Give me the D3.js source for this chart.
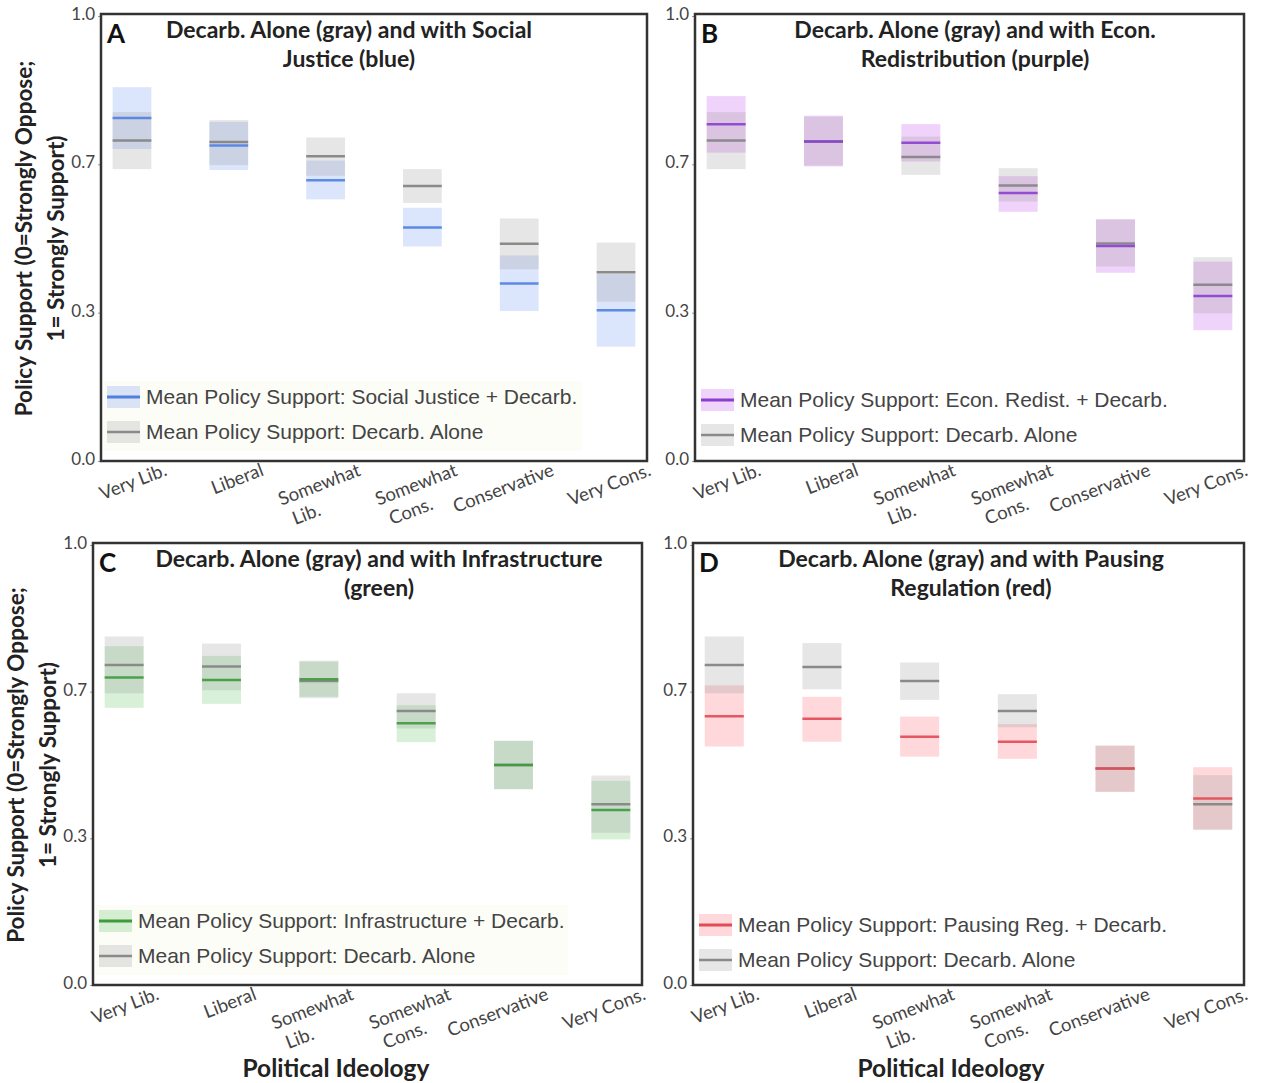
<!DOCTYPE html>
<html>
<head>
<meta charset="utf-8">
<script src="https://cdn.jsdelivr.net/npm/d3@7"></script>
<style>
  body { margin: 0; background: #fff; }
  svg { display: block; }
</style>
</head>
<body>
<div id="chart"></div>
<script>
const WIDTH = 1261;
const HEIGHT = 1083;

// categories along the x axis
const categories = ['Very Lib.', 'Liberal', 'Somewhat Lib.', 'Somewhat Cons.', 'Conservative', 'Very Cons.'];
const categoryLines = [['Very Lib.'], ['Liberal'], ['Somewhat', 'Lib.'], ['Somewhat', 'Cons.'], ['Conservative'], ['Very Cons.']];
// ticks sit at thirds, printed with one decimal (0.0, 0.3, 0.7, 1.0)
const yTicks = [0, 1 / 3, 2 / 3, 1];

// Panel A: social justice
const sjMean = [0.771, 0.709, 0.631, 0.525, 0.399, 0.339];
const sjLow = [0.701, 0.654, 0.588, 0.482, 0.337, 0.257];
const sjHigh = [0.840, 0.762, 0.675, 0.569, 0.462, 0.420];
const aloneMeanA = [0.720, 0.717, 0.685, 0.618, 0.488, 0.424];
const aloneLowA = [0.656, 0.665, 0.641, 0.580, 0.431, 0.358];
const aloneHighA = [0.784, 0.766, 0.727, 0.656, 0.545, 0.491];

// Panel B: economic redistribution
const erMean = [0.757, 0.718, 0.715, 0.602, 0.483, 0.371];
const erLow = [0.693, 0.662, 0.673, 0.560, 0.423, 0.294];
const erHigh = [0.820, 0.776, 0.757, 0.640, 0.543, 0.448];
const aloneMeanB = [0.720, 0.718, 0.683, 0.619, 0.489, 0.396];
const aloneLowB = [0.656, 0.664, 0.643, 0.583, 0.437, 0.332];
const aloneHighB = [0.784, 0.774, 0.729, 0.658, 0.543, 0.458];

// Panel C: infrastructure
const infMean = [0.699, 0.693, 0.695, 0.595, 0.500, 0.398];
const infLow = [0.630, 0.639, 0.655, 0.552, 0.445, 0.331];
const infHigh = [0.770, 0.748, 0.735, 0.636, 0.555, 0.464];
const aloneMeanC = [0.727, 0.724, 0.691, 0.623, 0.500, 0.411];
const aloneLowC = [0.663, 0.670, 0.652, 0.583, 0.445, 0.346];
const aloneHighC = [0.792, 0.776, 0.737, 0.663, 0.555, 0.476];

// Panel D: pausing regulation
const prMean = [0.611, 0.605, 0.564, 0.553, 0.492, 0.424];
const prLow = [0.542, 0.553, 0.519, 0.514, 0.439, 0.354];
const prHigh = [0.681, 0.655, 0.610, 0.593, 0.544, 0.495];
const aloneMeanD = [0.727, 0.723, 0.691, 0.623, 0.492, 0.411];
const aloneLowD = [0.663, 0.672, 0.648, 0.586, 0.439, 0.352];
const aloneHighD = [0.792, 0.777, 0.733, 0.661, 0.544, 0.477];

const GRAY = { band: 'rgb(150,150,150)', opacity: 0.24, line: '#8a8a8a' };

const PANELS = [
    {
        letter: 'A', left: 101, right: 647, top: 16, bottom: 461, titleX: 349,
        title: ['Decarb. Alone (gray) and with Social', 'Justice (blue)'],
        legend: 'Mean Policy Support: Social Justice + Decarb.',
        band: 'rgb(110,150,240)', bandOpacity: 0.25, line: '#4f80e1',
        mean: sjMean, low: sjLow, high: sjHigh,
        aMean: aloneMeanA, aLow: aloneLowA, aHigh: aloneHighA,
        legendY: 397, yTitle: true, xTitle: false, legendW: 478,
    },
    {
        letter: 'B', left: 695, right: 1244, top: 16, bottom: 461, titleX: 975,
        title: ['Decarb. Alone (gray) and with Econ.', 'Redistribution (purple)'],
        legend: 'Mean Policy Support: Econ. Redist. + Decarb.',
        band: 'rgb(205,110,240)', bandOpacity: 0.3, line: '#8a3ed0',
        mean: erMean, low: erLow, high: erHigh,
        aMean: aloneMeanB, aLow: aloneLowB, aHigh: aloneHighB,
        legendY: 400, yTitle: false, xTitle: false, legendW: 0,
    },
    {
        letter: 'C', left: 93, right: 642, top: 545, bottom: 985, titleX: 379,
        title: ['Decarb. Alone (gray) and with Infrastructure', '(green)'],
        legend: 'Mean Policy Support: Infrastructure + Decarb.',
        band: 'rgb(110,200,110)', bandOpacity: 0.28, line: '#3d9a3d',
        mean: infMean, low: infLow, high: infHigh,
        aMean: aloneMeanC, aLow: aloneLowC, aHigh: aloneHighC,
        legendY: 921, yTitle: true, xTitle: true, xTitleX: 336, legendW: 472,
    },
    {
        letter: 'D', left: 693, right: 1244, top: 545, bottom: 985, titleX: 971,
        title: ['Decarb. Alone (gray) and with Pausing', 'Regulation (red)'],
        legend: 'Mean Policy Support: Pausing Reg. + Decarb.',
        band: 'rgb(250,115,125)', bandOpacity: 0.28, line: '#e24a55',
        mean: prMean, low: prLow, high: prHigh,
        aMean: aloneMeanD, aLow: aloneLowD, aHigh: aloneHighD,
        legendY: 925, yTitle: false, xTitle: true, xTitleX: 951, legendW: 0,
    },
];

const svg = d3.select('#chart')
    .append('svg')
    .attr('width', WIDTH)
    .attr('height', HEIGHT);

PANELS.forEach(p => drawPanel(p));

function drawPanel(p) {
    const x = d3.scalePoint().domain(categories).range([p.left, p.right]).padding(0.32);
    const y = d3.scaleLinear().domain([0, 1]).range([p.bottom, p.top]);
    const boxW = x.step() * 0.4;
    const g = svg.append('g');

    // y axis with ticks at thirds
    const yAxis = g.append('g')
        .attr('transform', `translate(${p.left},0)`)
        .call(d3.axisLeft(y).tickValues(yTicks).tickFormat(d3.format('.1f')).tickSize(3).tickPadding(3));
    yAxis.select('.domain').remove();
    yAxis.selectAll('line').attr('stroke', '#999');
    yAxis.selectAll('text')
        .style('font-family', 'Lato, sans-serif')
        .style('font-size', '17px')
        .attr('fill', '#444')
        .attr('dy', '0.2em');

    const rows = categories.map((c, i) => ({
        cat: c, mean: p.mean[i], low: p.low[i], high: p.high[i],
        aMean: p.aMean[i], aLow: p.aLow[i], aHigh: p.aHigh[i],
    }));

    // colored confidence bands
    g.selectAll('rect.band')
        .data(rows)
        .enter()
        .append('rect')
        .attr('class', 'band')
        .attr('x', d => x(d.cat) - boxW / 2)
        .attr('width', boxW)
        .attr('y', d => y(d.high))
        .attr('height', d => y(d.low) - y(d.high))
        .attr('fill', p.band)
        .attr('fill-opacity', p.bandOpacity);

    // gray (decarb alone) bands
    g.selectAll('rect.alone')
        .data(rows)
        .enter()
        .append('rect')
        .attr('class', 'alone')
        .attr('x', d => x(d.cat) - boxW / 2)
        .attr('width', boxW)
        .attr('y', d => y(d.aHigh))
        .attr('height', d => y(d.aLow) - y(d.aHigh))
        .attr('fill', GRAY.band)
        .attr('fill-opacity', GRAY.opacity);

    // mean lines
    g.selectAll('line.alone-mean')
        .data(rows)
        .enter()
        .append('line')
        .attr('x1', d => x(d.cat) - boxW / 2)
        .attr('x2', d => x(d.cat) + boxW / 2)
        .attr('y1', d => y(d.aMean))
        .attr('y2', d => y(d.aMean))
        .attr('stroke', GRAY.line)
        .attr('stroke-width', 2.5);

    g.selectAll('line.mean')
        .data(rows)
        .enter()
        .append('line')
        .attr('x1', d => x(d.cat) - boxW / 2)
        .attr('x2', d => x(d.cat) + boxW / 2)
        .attr('y1', d => y(d.mean))
        .attr('y2', d => y(d.mean))
        .attr('stroke', p.line)
        .attr('stroke-width', 2.5)
        .attr('stroke-opacity', 0.9);

    // legend
    const lg = g.append('g').attr('transform', `translate(${p.left + 6},${p.legendY})`);
    if (p.legendW) {
        lg.append('rect')
            .attr('x', -3).attr('y', -16)
            .attr('width', p.legendW).attr('height', 70)
            .attr('fill', '#fdfdf7');
    }
    const items = [
        { label: p.legend, band: p.band, op: p.bandOpacity, line: p.line },
        { label: 'Mean Policy Support: Decarb. Alone', band: GRAY.band, op: GRAY.opacity, line: GRAY.line },
    ];
    items.forEach((it, i) => {
        const row = lg.append('g').attr('transform', `translate(0,${i * 35})`);
        row.append('rect')
            .attr('x', 0).attr('y', -11)
            .attr('width', 33).attr('height', 22)
            .attr('fill', it.band).attr('fill-opacity', it.op);
        row.append('line')
            .attr('x1', 0).attr('x2', 33)
            .attr('stroke', it.line).attr('stroke-width', i === 0 ? 3 : 2.5);
        row.append('text')
            .attr('x', 39).attr('y', 7)
            .style('font-family', '"Liberation Sans", Arial, sans-serif')
            .style('font-size', '21px')
            .attr('fill', '#444')
            .text(it.label);
    });

    // frame
    g.append('rect')
        .attr('x', p.left).attr('y', p.top - 2)
        .attr('width', p.right - p.left).attr('height', p.bottom - p.top + 2)
        .attr('fill', 'none')
        .attr('stroke', '#333')
        .attr('stroke-width', 2.5);

    // panel letter and title
    g.append('text')
        .attr('x', p.left + 6).attr('y', p.top + 27)
        .style('font-family', 'Lato, sans-serif')
        .style('font-weight', 700)
        .style('font-size', '26px')
        .attr('fill', '#111')
        .text(p.letter);
    p.title.forEach((t, i) => {
        g.append('text')
            .attr('x', p.titleX).attr('y', p.top + 22 + i * 29)
            .attr('text-anchor', 'middle')
            .style('font-family', 'Lato, sans-serif')
            .style('font-weight', 700)
            .style('font-size', '23px')
            .attr('fill', '#222')
            .text(t);
    });

    // rotated category labels
    categories.forEach((c, i) => {
        const lab = g.append('g')
            .attr('transform', `translate(${x(c) + 36},${p.bottom + 14}) rotate(-21)`);
        const lines = categoryLines[i];
        const first = lab.append('text')
            .attr('text-anchor', 'end')
            .style('font-family', 'Lato, sans-serif')
            .style('font-size', '18.5px')
            .attr('fill', '#444')
            .text(lines[0]);
        if (lines.length > 1) {
            const len = first.node().getComputedTextLength();
            lab.append('text')
                .attr('x', -len + 6).attr('y', 23)
                .style('font-family', 'Lato, sans-serif')
                .style('font-size', '18.5px')
                .attr('fill', '#444')
                .text(lines[1]);
        }
    });

    // axis titles
    if (p.yTitle) {
        const cy = (p.top + p.bottom) / 2;
        ['Policy Support (0=Strongly Oppose;', '1= Strongly Support)'].forEach((t, i) => {
            g.append('text')
                .attr('transform', `translate(${p.left - 69 + i * 32},${cy}) rotate(-90)`)
                .attr('text-anchor', 'middle')
                .style('font-family', 'Lato, sans-serif')
                .style('font-weight', 700)
                .style('font-size', '22.5px')
                .attr('fill', '#222')
                .text(t);
        });
    }
    if (p.xTitle) {
        g.append('text')
            .attr('x', p.xTitleX).attr('y', p.bottom + 92)
            .attr('text-anchor', 'middle')
            .style('font-family', 'Lato, sans-serif')
            .style('font-weight', 700)
            .style('font-size', '24.5px')
            .attr('fill', '#222')
            .text('Political Ideology');
    }
}
</script>
</body>
</html>
